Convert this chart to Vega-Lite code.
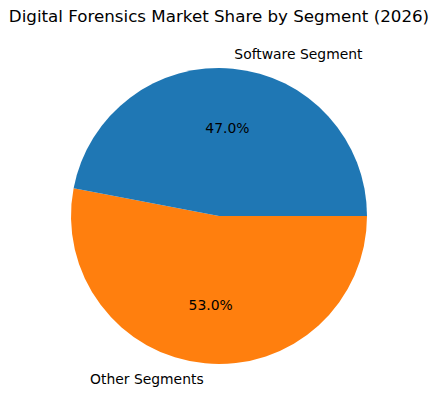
{
  "$schema": "https://vega.github.io/schema/vega-lite/v6.json",
  "autosize": "none",
  "padding": {"left": 0, "right": 0, "top": 42, "bottom": 21},
  "width": 438,
  "height": 348,
  "title": {
    "text": "Digital Forensics Market Share by Segment (2026)",
    "font": "DejaVu Sans",
    "fontSize": 16.7,
    "fontWeight": "normal",
    "color": "#000000",
    "anchor": "middle",
    "offset": 16
  },
  "data": {
    "values": [
      {"segment": "Other Segments", "share": 53.0, "label": "53.0%"},
      {"segment": "Software Segment", "share": 47.0, "label": "47.0%"}
    ]
  },
  "encoding": {
    "theta": {
      "field": "share",
      "type": "quantitative",
      "stack": true,
      "scale": {"range": [1.5707963, 7.8539816]}
    },
    "order": {"field": "segment", "sort": "ascending"}
  },
  "layer": [
    {
      "mark": {"type": "arc", "outerRadius": 148},
      "encoding": {
        "color": {
          "field": "segment",
          "type": "nominal",
          "scale": {
            "domain": ["Software Segment", "Other Segments"],
            "range": ["#1f77b4", "#ff7f0e"]
          },
          "legend": null
        }
      }
    },
    {
      "mark": {"type": "text", "radius": 89, "font": "DejaVu Sans", "fontSize": 13.9, "color": "#000000", "align": "center", "baseline": "middle", "dy": 1.5},
      "encoding": {"text": {"field": "label"}}
    },
    {
      "mark": {"type": "text", "radius": 163, "font": "DejaVu Sans", "fontSize": 13.9, "color": "#000000", "align": "left", "baseline": "middle", "dy": 1.5},
      "encoding": {
        "text": {
          "condition": {"test": "datum.segment == 'Software Segment'", "field": "segment"},
          "value": ""
        }
      }
    },
    {
      "mark": {"type": "text", "radius": 163, "font": "DejaVu Sans", "fontSize": 13.9, "color": "#000000", "align": "right", "baseline": "middle", "dy": 1.5},
      "encoding": {
        "text": {
          "condition": {"test": "datum.segment == 'Other Segments'", "field": "segment"},
          "value": ""
        }
      }
    }
  ],
  "config": {"view": {"stroke": null}}
}
